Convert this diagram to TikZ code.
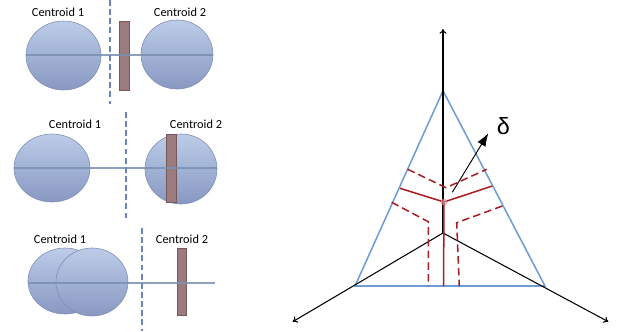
\documentclass[tikz,border=0pt]{standalone}
\usepackage{fontspec}
\setmainfont{Carlito}
\newfontfamily\deltafont{Liberation Sans}
\usetikzlibrary{arrows.meta}
\definecolor{blobtop}{HTML}{BCCCE8}
\definecolor{blobbot}{HTML}{8898C2}
\definecolor{blobedge}{HTML}{7E8DB4}
\definecolor{barfill}{HTML}{9C7B7E}
\definecolor{baredge}{HTML}{76585B}
\definecolor{linkblue}{HTML}{7B8FB3}
\definecolor{splitblue}{HTML}{6A86B8}
\definecolor{triblue}{HTML}{6C9DD4}
\definecolor{cutred}{HTML}{A81E22}
\begin{document}
\begin{tikzpicture}[x=0.03cm,y=-0.03cm,every node/.style={font=\fontsize{10.5}{12}\selectfont},blob/.style={draw=blobedge,line width=0.5pt,top color=blobtop,bottom color=blobbot},bar/.style={draw=baredge,line width=0.5pt,fill=barfill},link/.style={draw=linkblue,line width=1.5pt,opacity=0.85},split/.style={draw=splitblue,dash pattern=on 5pt off 2.8pt,line width=1pt},tri/.style={draw=triblue,line width=1.3pt},axis/.style={-{To[length=4pt,width=6pt]},line width=0.9pt},cut/.style={draw=cutred,line width=1.3pt},cutdash/.style={cut,dash pattern=on 6.5pt off 3.5pt}]
\useasboundingbox (0,0) rectangle (620,331);
% first case
\node (name1a) at (58,12) {Centroid 1};
\node (name2a) at (180,12) {Centroid 2};
\draw[blob] (63.5,55.5) ellipse [x radius=37.5,y radius=34.5];
\draw[blob] (177,54.5) ellipse [x radius=36,y radius=34.5];
\draw[bar] (119,21) rectangle (129,90);
\coordinate (linka) at (26,55);
\coordinate (linkb) at (213,55);
\draw[link] (linka) -- (linkb);
\coordinate (splita) at (110,0);
\coordinate (splitb) at (110,104);
\draw[split] (splita) -- (splitb);
% second case
\node (name1b) at (75,124) {Centroid 1};
\node (name2b) at (196,124) {Centroid 2};
\draw[blob] (52,168) ellipse [x radius=38,y radius=34];
\draw[blob] (181,169) ellipse [x radius=36,y radius=35];
\draw[bar] (166,134) rectangle (176,202);
\coordinate (linkc) at (14,168);
\coordinate (linkd) at (217,168);
\draw[link] (linkc) -- (linkd);
\coordinate (splitc) at (126,112);
\coordinate (splitd) at (126,218);
\draw[split] (splitc) -- (splitd);
% third case
\node (name1c) at (60,239) {Centroid 1};
\node (name2c) at (182,239) {Centroid 2};
\draw[blob] (65,281) ellipse [x radius=37,y radius=33];
\draw[blob] (92,282) ellipse [x radius=36,y radius=34];
\draw[bar] (177,248) rectangle (186,315);
\coordinate (linke) at (28,283);
\coordinate (linkf) at (215,283);
\draw[link] (linke) -- (linkf);
\coordinate (splite) at (142,228);
\coordinate (splitf) at (142,331);
\draw[split] (splite) -- (splitf);
% simplex
\coordinate (apex) at (443,90.7);
\coordinate (left) at (355,286);
\coordinate (right) at (545,286);
\coordinate (origin) at (443,233);
\coordinate (upaxis) at (443,29);
\coordinate (leftaxis) at (292.7,321.7);
\coordinate (rightaxis) at (608.3,321.7);
\draw[tri] (apex) -- (left) -- (right) -- cycle;
\draw[axis] (origin) -- (upaxis);
\draw[axis] (origin) -- (leftaxis);
\draw[axis] (origin) -- (rightaxis);
\coordinate (mid) at (444,202);
\coordinate (midl) at (400,188.3);
\coordinate (midr) at (492.3,186);
\coordinate (midb) at (443.5,286);
\draw[cut] (midl) -- (mid) -- (midr);
\draw[cut] (mid) -- (midb);
\coordinate (upl) at (407.7,169.3);
\coordinate (upm) at (446,187.7);
\coordinate (upr) at (486.7,169.3);
\draw[cutdash] (upl) -- (upm) -- (upr);
\coordinate (lowl) at (391.7,202.3);
\coordinate (lowlc) at (428.3,221.7);
\coordinate (lowlb) at (428.3,286);
\draw[cutdash] (lowl) -- (lowlc) -- (lowlb);
\coordinate (lowr) at (502.3,206);
\coordinate (lowrc) at (456.7,222.7);
\coordinate (lowrb) at (459.3,286);
\draw[cutdash] (lowr) -- (lowrc) -- (lowrb);
\fill[red!45,opacity=0.6] (mid) circle [radius=3.5];
\fill[triblue] (mid) circle [radius=1.2];
\coordinate (shift) at (452.3,192.3);
\node[font=\deltafont\fontsize{20}{24}\selectfont,inner sep=0pt] (delta) at (503.5,126.5) {δ};
\coordinate (shifttip) at (488.3,133.3);
\draw[-{Latex[length=11pt,width=8pt]},line width=0.8pt] (shift) -- (shifttip);
\end{tikzpicture}
\end{document}
